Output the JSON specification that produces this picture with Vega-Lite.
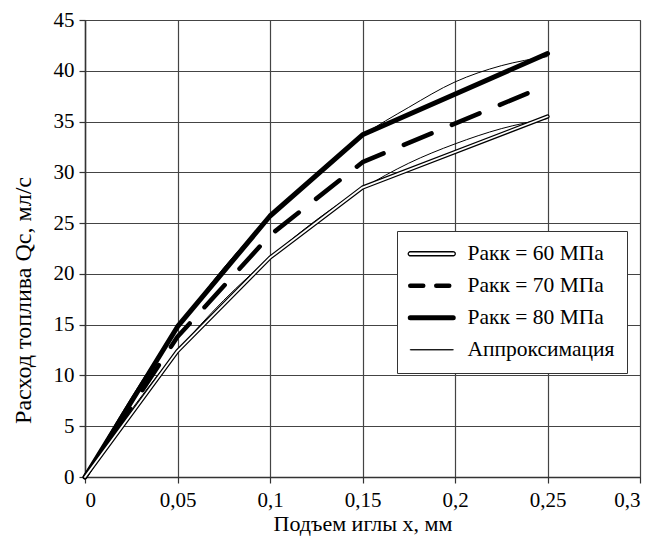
{
  "$schema": "https://vega.github.io/schema/vega-lite/v6.json",
  "width": 555,
  "height": 457,
  "autosize": {"type": "none"},
  "padding": {"left": 85, "top": 20, "right": 11, "bottom": 62},
  "background": "white",
  "config": {
    "font": "Liberation Serif",
    "view": {"stroke": "#444"},
    "axis": {
      "labelFont": "Liberation Serif",
      "labelFontSize": 21,
      "labelColor": "black",
      "titleFont": "Liberation Serif",
      "titleFontSize": 22,
      "titleFontWeight": "normal",
      "titleColor": "black",
      "gridColor": "#444",
      "gridWidth": 1.2,
      "gridOpacity": 1,
      "domainColor": "#333",
      "domainWidth": 1.5,
      "tickColor": "#333",
      "tickSize": 6,
      "tickWidth": 1.2
    }
  },
  "data": {
    "values": [
      {"s": "P60", "g": "P60", "x": 0, "q": 0},
      {"s": "P60", "g": "P60", "x": 0.05, "q": 12.4},
      {"s": "P60", "g": "P60", "x": 0.1, "q": 21.6},
      {"s": "P60", "g": "P60", "x": 0.15, "q": 28.5},
      {"s": "P60", "g": "P60", "x": 0.25, "q": 35.5},
      {"s": "P70", "g": "P70", "x": 0, "q": 0},
      {"s": "P70", "g": "P70", "x": 0.05, "q": 13.8},
      {"s": "P70", "g": "P70", "x": 0.1, "q": 23.8},
      {"s": "P70", "g": "P70", "x": 0.15, "q": 31.0},
      {"s": "P70", "g": "P70", "x": 0.25, "q": 38.6},
      {"s": "P80", "g": "P80", "x": 0, "q": 0},
      {"s": "P80", "g": "P80", "x": 0.05, "q": 14.8},
      {"s": "P80", "g": "P80", "x": 0.1, "q": 25.7},
      {"s": "P80", "g": "P80", "x": 0.15, "q": 33.7},
      {"s": "P80", "g": "P80", "x": 0.25, "q": 41.7},
      {"s": "Approx", "g": "A80", "x": 0, "q": 0},
      {"s": "Approx", "g": "A80", "x": 0.025, "q": 7.8},
      {"s": "Approx", "g": "A80", "x": 0.05, "q": 14.6},
      {"s": "Approx", "g": "A80", "x": 0.075, "q": 20.6},
      {"s": "Approx", "g": "A80", "x": 0.1, "q": 25.6},
      {"s": "Approx", "g": "A80", "x": 0.125, "q": 29.9},
      {"s": "Approx", "g": "A80", "x": 0.15, "q": 33.6},
      {"s": "Approx", "g": "A80", "x": 0.175, "q": 36.4},
      {"s": "Approx", "g": "A80", "x": 0.2, "q": 38.9},
      {"s": "Approx", "g": "A80", "x": 0.225, "q": 40.5},
      {"s": "Approx", "g": "A80", "x": 0.25, "q": 41.4},
      {"s": "Approx", "g": "A60", "x": 0, "q": 0},
      {"s": "Approx", "g": "A60", "x": 0.025, "q": 6.6},
      {"s": "Approx", "g": "A60", "x": 0.05, "q": 12.4},
      {"s": "Approx", "g": "A60", "x": 0.075, "q": 17.4},
      {"s": "Approx", "g": "A60", "x": 0.1, "q": 21.6},
      {"s": "Approx", "g": "A60", "x": 0.125, "q": 25.3},
      {"s": "Approx", "g": "A60", "x": 0.15, "q": 28.4},
      {"s": "Approx", "g": "A60", "x": 0.175, "q": 30.9},
      {"s": "Approx", "g": "A60", "x": 0.2, "q": 32.8},
      {"s": "Approx", "g": "A60", "x": 0.225, "q": 34.3},
      {"s": "Approx", "g": "A60", "x": 0.25, "q": 35.3}
    ]
  },
  "encoding": {
    "x": {
      "field": "x", "type": "quantitative",
      "scale": {"domain": [0, 0.3], "nice": false},
      "axis": {
        "values": [0, 0.05, 0.1, 0.15, 0.2, 0.25, 0.3],
        "labelExpr": "replace(toString(datum.value), '.', ',')",
        "labelPadding": 6,
        "title": "Подъем иглы x, мм",
        "titleY": 46,
        "titleBaseline": "middle"
      }
    },
    "y": {
      "field": "q", "type": "quantitative",
      "scale": {"domain": [0, 45], "nice": false},
      "axis": {
        "values": [0, 5, 10, 15, 20, 25, 30, 35, 40, 45],
        "labelPadding": 5,
        "title": "Расход топлива Qс, мл/с",
        "titleFontSize": 24,
        "titleX": -62,
        "titleY": 280,
        "titleBaseline": "middle"
      }
    }
  },
  "layer": [
    {
      "transform": [{"filter": "datum.s === 'P60'"}],
      "mark": {"type": "line", "strokeCap": "round", "strokeJoin": "round", "strokeWidth": 4.2},
      "encoding": {
        "detail": {"field": "g"},
        "color": {
          "field": "s", "type": "nominal",
          "scale": {"domain": ["P60", "P70", "P80", "Approx"], "range": ["black", "black", "black", "black"]},
          "legend": {
            "title": null,
            "orient": "none",
            "legendX": 312,
            "legendY": 211,
            "padding": 12,
            "strokeColor": "#333",
            "fillColor": "white",
            "symbolSize": 400,
            "symbolOffset": 12,
            "symbolStrokeColor": "black",
            "rowPadding": 9,
            "labelFont": "Liberation Serif",
            "labelFontSize": 21.5,
            "labelColor": "black",
            "labelOffset": 25,
            "labelLimit": 300,
            "labelExpr": "datum.value === 'Approx' ? 'Аппроксимация' : 'Pакк = ' + slice(datum.value, 1) + ' МПа'",
            "encode": {
              "symbols": {
                "update": {
                  "shape": {"signal": "datum.value === 'P60' ? 'M-2.15,-0.2L2.15,-0.2A0.2,0.2,0,0,1,2.15,0.2L-2.15,0.2A0.2,0.2,0,0,1,-2.15,-0.2Z' : 'M-2.15,0L2.15,0'"},
                  "fill": {"signal": "datum.value === 'P60' ? 'white' : 'transparent'"},
                  "stroke": {"value": "black"},
                  "strokeCap": {"value": "round"},
                  "strokeWidth": {"signal": "datum.value === 'P60' ? 1.3 : (datum.value === 'P70' ? 4.5 : (datum.value === 'P80' ? 5 : 1))"},
                  "strokeDash": {"signal": "datum.value === 'P70' ? [13, 13] : [1, 0]"}
                }
              }
            }
          }
        }
      }
    },
    {
      "transform": [{"filter": "datum.s === 'P70'"}],
      "mark": {"type": "line", "strokeCap": "round", "strokeJoin": "round", "strokeWidth": 4.5, "strokeDash": [30, 22]},
      "encoding": {
        "detail": {"field": "g"},
        "color": {"field": "s", "type": "nominal"}
      }
    },
    {
      "transform": [{"filter": "datum.s === 'P80'"}],
      "mark": {"type": "line", "strokeCap": "round", "strokeJoin": "round", "strokeWidth": 5},
      "encoding": {
        "detail": {"field": "g"},
        "color": {"field": "s", "type": "nominal"}
      }
    },
    {
      "transform": [{"filter": "datum.s === 'Approx'"}],
      "mark": {"type": "line", "interpolate": "monotone", "strokeWidth": 1},
      "encoding": {
        "detail": {"field": "g"},
        "color": {"field": "s", "type": "nominal"}
      }
    },
    {
      "transform": [{"filter": "datum.s === 'P60'"}],
      "mark": {"type": "line", "strokeCap": "round", "strokeJoin": "round", "color": "white", "strokeWidth": 1.8},
      "encoding": {"detail": {"field": "g"}}
    }
  ]
}
